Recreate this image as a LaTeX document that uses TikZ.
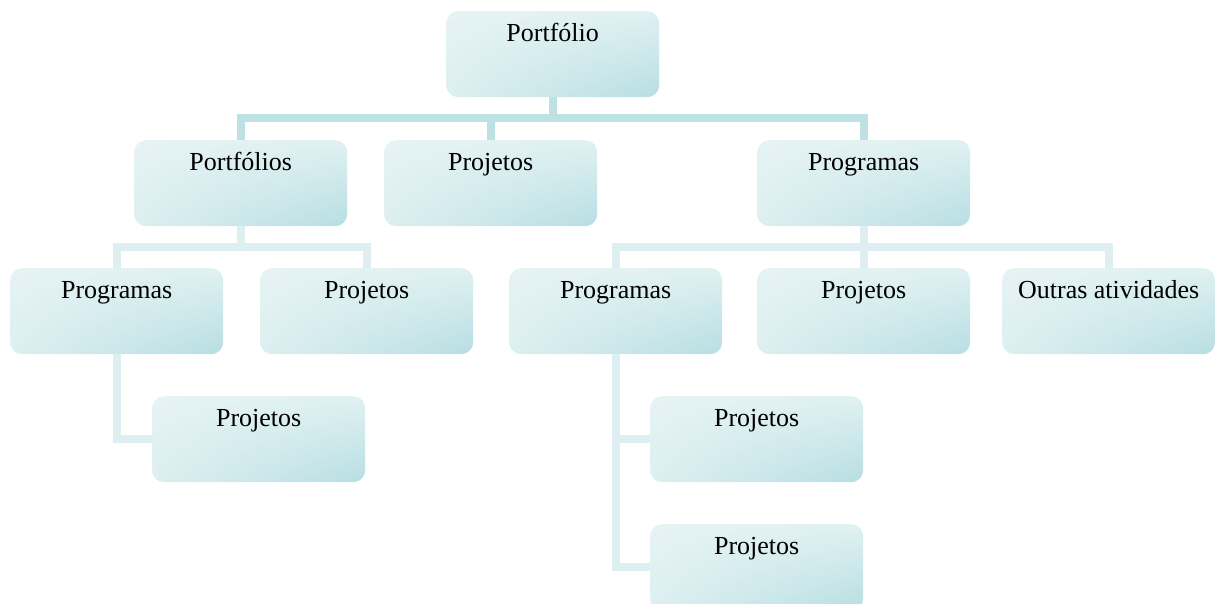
\documentclass[tikz,border=0pt]{standalone}
\usepackage{fontspec}
\setmainfont{Liberation Serif}
\usetikzlibrary{shadings}

\definecolor{boxTL}{RGB}{230,243,244}
\definecolor{boxTR}{RGB}{224,241,242}
\definecolor{boxBL}{RGB}{221,239,240}
\definecolor{boxBR}{RGB}{183,222,226}
\definecolor{wireA}{RGB}{190,225,228}
\definecolor{wireB}{RGB}{221,239,241}

\tikzset{
  orgbox/.style={
    rectangle, rounded corners=12pt, anchor=north west,
    minimum width=213pt, minimum height=86pt, inner sep=0pt,
    text height=30pt, text depth=56pt, align=center,
    font=\fontsize{26}{30}\selectfont,
    upper left=boxTL, upper right=boxTR,
    lower left=boxBL, lower right=boxBR},
  wireone/.style={draw=wireA, line width=8pt},
  wiretwo/.style={draw=wireB, line width=8pt}
}

\begin{document}
\begin{tikzpicture}[x=1pt, y=-1pt]
\useasboundingbox (0,0) rectangle (1215,603);

% top level
\node[orgbox] (root) at (446,11) {Portfólio};

% first level
\node[orgbox] (pf)  at (134,140) {Portfólios};
\node[orgbox] (pj)  at (384,140) {Projetos};
\node[orgbox] (pg)  at (757,140) {Programas};

% second level
\node[orgbox] (pfpg) at (10,268)   {Programas};
\node[orgbox] (pfpj) at (260,268)  {Projetos};
\node[orgbox] (pgpg) at (509,268)  {Programas};
\node[orgbox] (pgpj) at (757,268)  {Projetos};
\node[orgbox] (pgoa) at (1002,268) {Outras atividades};

% third level
\node[orgbox] (pfpgpj) at (152,396) {Projetos};
\node[orgbox] (pgpgj1) at (650,396) {Projetos};
\node[orgbox] (pgpgj2) at (650,524) {Projetos};

% connectors below the root
\begin{scope}[on background layer/.try]
\path[wireone] (root.south) -- ++(0,22);
\path[wireone] (pf.north) -- ++(0,-22) -| (pg.north);
\path[wireone] (pj.north) -- ++(0,-22);

% connectors below Portfólios
\path[wiretwo] (pf.south) -- ++(0,21);
\path[wiretwo] (pfpg.north) -- ++(0,-21) -| (pfpj.north);

% connectors below Programas
\path[wiretwo] (pg.south) -- ++(0,21);
\path[wiretwo] (pgpg.north) -- ++(0,-21) -| (pgoa.north);
\path[wiretwo] (pgpj.north) -- ++(0,-21);

% side connectors to the third level
\path[wiretwo] (pfpg.south) |- (pfpgpj.west);
\path[wiretwo] (pgpg.south) |- (pgpgj1.west);
\path[wiretwo] (pgpg.south) |- (pgpgj2.west);
\end{scope}
\end{tikzpicture}
\end{document}
